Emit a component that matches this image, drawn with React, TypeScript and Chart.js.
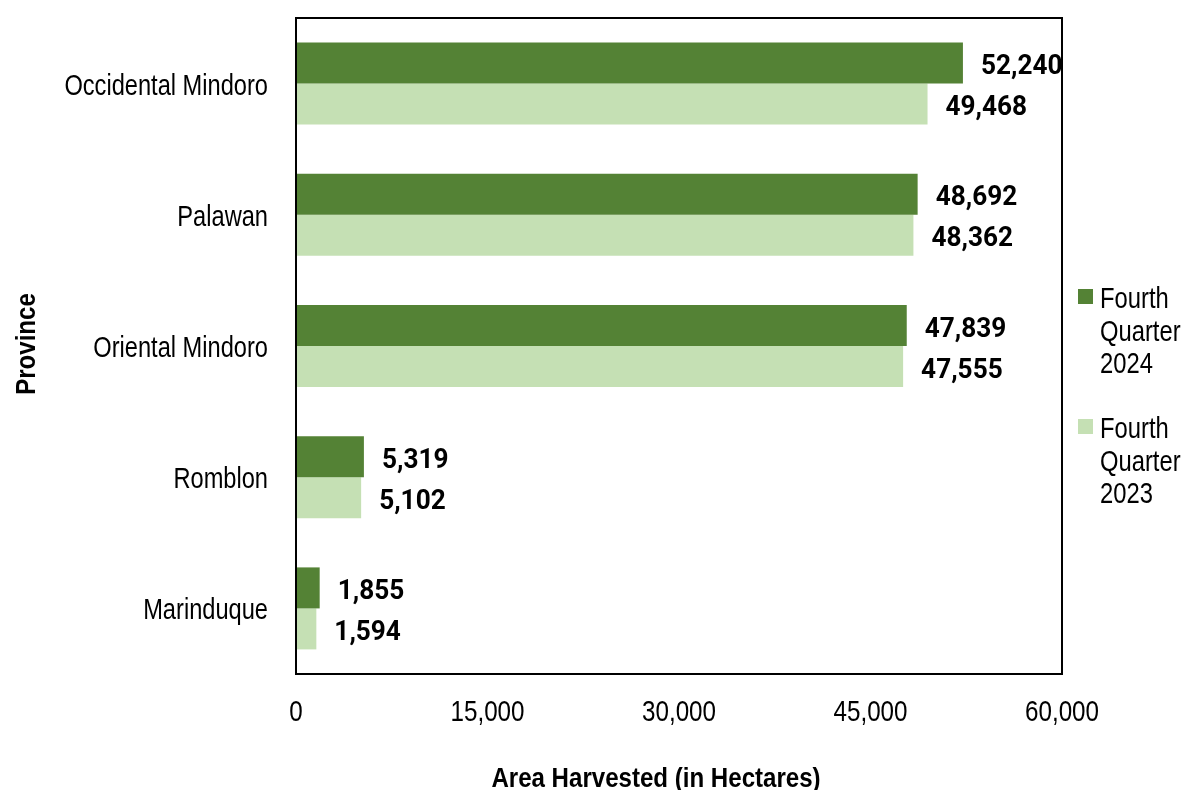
import React, { useEffect, useRef } from "react";
import { Chart, registerables } from "chart.js";

Chart.register(...registerables);

const provinces = ["Occidental Mindoro", "Palawan", "Oriental Mindoro", "Romblon", "Marinduque"];
const q4_2024 = [52240, 48692, 47839, 5319, 1855];
const q4_2023 = [49468, 48362, 47555, 5102, 1594];
const seriesLabels = [["Fourth", "Quarter", "2024"], ["Fourth", "Quarter", "2023"]];
const xTitle = "Area Harvested (in Hectares)";
const yTitle = "Province";

const DARK = "#548235";
const LIGHT = "#C5E0B4";
const SANS = '"Liberation Sans", Arial, sans-serif';
const LABEL_FONT = 'Roboto, "DejaVu Sans", sans-serif';
const NARROW_SCALE = 0.82;

function narrowText(ctx: CanvasRenderingContext2D, text: string, x: number, y: number, align: CanvasTextAlign, font: string, sx = NARROW_SCALE) {
  ctx.save();
  ctx.font = font;
  ctx.textAlign = align;
  ctx.textBaseline = "alphabetic";
  ctx.translate(x, y);
  ctx.scale(sx, 1);
  ctx.fillText(text, 0, 0);
  ctx.restore();
}

const decorPlugin = {
  id: "decor",
  afterDatasetsDraw(chart: any) {
    const { ctx, chartArea } = chart;
    const xs = chart.scales.x;
    const ys = chart.scales.y;
    ctx.save();
    // plot border
    ctx.strokeStyle = "#000";
    ctx.lineWidth = 2;
    ctx.strokeRect(chartArea.left, chartArea.top, chartArea.right - chartArea.left, chartArea.bottom - chartArea.top);

    ctx.fillStyle = "#000";
    // x tick labels
    xs.ticks.forEach((t: any) => {
      const px = xs.getPixelForValue(t.value);
      narrowText(ctx, Number(t.value).toLocaleString("en-US"), px, chartArea.bottom + 47, "center", `29.5px ${SANS}`);
    });
    // y tick labels
    provinces.forEach((p, i) => {
      const py = ys.getPixelForValue(i);
      narrowText(ctx, p, chartArea.left - 28, py + 11, "right", `29px ${SANS}`, 0.815);
    });

    // data labels
    chart.data.datasets.forEach((ds: any, di: number) => {
      const meta = chart.getDatasetMeta(di);
      meta.data.forEach((bar: any, i: number) => {
        const v = ds.data[i] as number;
        narrowText(ctx, v.toLocaleString("en-US"), bar.x + 18, bar.y + 11, "left", `bold 27px ${LABEL_FONT}`, 0.97);
      });
    });

    // legend
    const lx = chartArea.right + 16;
    chart.data.datasets.forEach((ds: any, di: number) => {
      const baseY = 308 + di * 130;
      ctx.fillStyle = ds.backgroundColor;
      ctx.fillRect(lx, baseY - 19, 15, 15);
      ctx.fillStyle = "#000";
      seriesLabels[di].forEach((ln: string, li: number) => {
        narrowText(ctx, ln, lx + 22, baseY + li * 32.5, "left", `29px ${SANS}`);
      });
    });

    // axis titles
    narrowText(ctx, xTitle, 656, 787, "center", `bold 28px ${SANS}`, 0.86);
    ctx.save();
    ctx.translate(35, 344);
    ctx.rotate(-Math.PI / 2);
    narrowText(ctx, yTitle, 0, 0, "center", `bold 28px ${SANS}`, 0.86);
    ctx.restore();
    ctx.restore();
  },
};

export default function App() {
  const ref = useRef<HTMLCanvasElement | null>(null);
  useEffect(() => {
    document.body.style.margin = "0";
    if (!ref.current) return;
    const chart = new Chart(ref.current, {
      type: "bar",
      data: {
        labels: provinces,
        datasets: [
          { label: "Fourth Quarter 2024", data: q4_2024, backgroundColor: DARK, barPercentage: 1, categoryPercentage: 0.625 },
          { label: "Fourth Quarter 2023", data: q4_2023, backgroundColor: LIGHT, barPercentage: 1, categoryPercentage: 0.625 },
        ],
      },
      options: {
        indexAxis: "y",
        animation: false,
        responsive: true,
        maintainAspectRatio: false,
        layout: { padding: { top: 18, right: 122, bottom: 0, left: 0 } },
        plugins: { legend: { display: false }, tooltip: { enabled: false } },
        scales: {
          x: {
            min: 0,
            max: 60000,
            ticks: { stepSize: 15000, display: false },
            grid: { display: false, drawTicks: false },
            border: { display: false },
            afterFit: (s: any) => { s.height = 116; },
          },
          y: {
            ticks: { display: false },
            grid: { display: false, drawTicks: false },
            border: { display: false },
            afterFit: (s: any) => { s.width = 296; },
          },
        },
      },
      plugins: [decorPlugin],
    });
    return () => chart.destroy();
  }, []);
  return (
    <div style={{ width: 1184, height: 790, position: "relative" }}>
      <canvas ref={ref} />
    </div>
  );
}
